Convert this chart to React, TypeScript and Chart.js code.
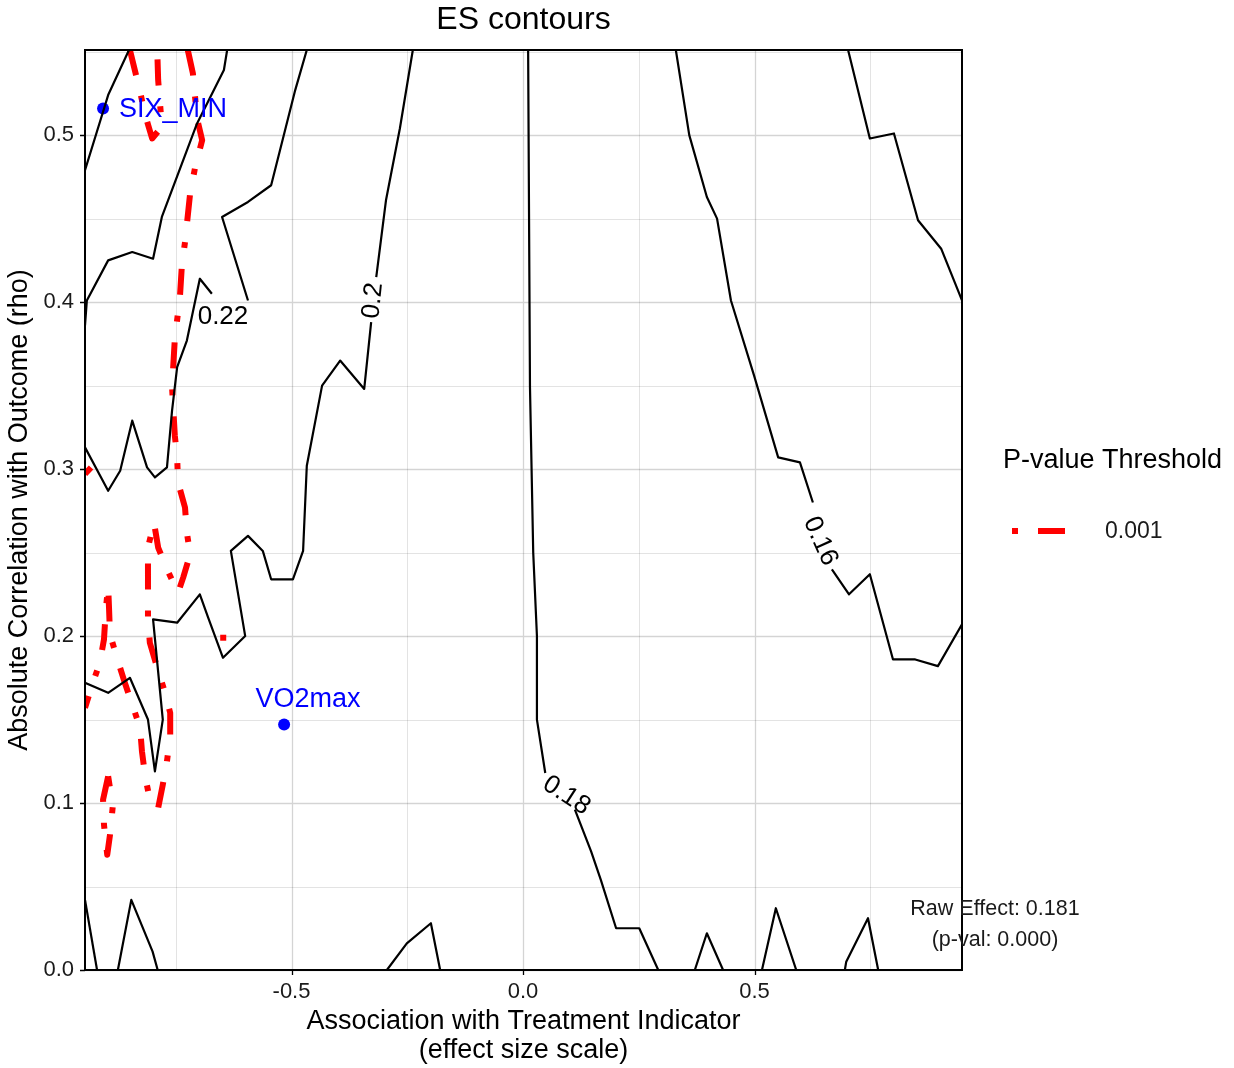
import React, { useEffect, useRef } from "react";
import { Chart, registerables } from "chart.js";

Chart.register(...registerables);

const FONT = '"Liberation Sans", Arial, Helvetica, sans-serif';

// ---- axes ----
const xLimits = [-0.946, 0.948];
const yLimits = [0, 0.551];
const xMinorGrid = [-0.75, -0.25, 0.25, 0.75];
const yMinorGrid = [0.05, 0.15, 0.25, 0.35, 0.45, 0.55];

// ---- ES contour lines ([x, y]) ----
const esContourA = [[-0.851, 0.551], [-0.896, 0.524], [-0.907, 0.514], [-0.946, 0.479]];
const esContourB = [[-0.639, 0.551], [-0.646, 0.539], [-0.704, 0.507], [-0.78, 0.451], [-0.799, 0.426], [-0.844, 0.43], [-0.896, 0.425], [-0.942, 0.401], [-0.946, 0.386]];
const es022Upper = [[-0.467, 0.551], [-0.492, 0.527], [-0.544, 0.47], [-0.594, 0.46], [-0.65, 0.451], [-0.594, 0.401]];
const es022Lower = [[-0.672, 0.405], [-0.698, 0.414], [-0.726, 0.377], [-0.747, 0.361], [-0.758, 0.335], [-0.769, 0.301], [-0.795, 0.295], [-0.812, 0.301], [-0.844, 0.329], [-0.87, 0.299], [-0.896, 0.287], [-0.946, 0.313]];
const es020Upper = [[-0.238, 0.551], [-0.266, 0.504], [-0.296, 0.461], [-0.317, 0.415]];
const es020Lower = [[-0.328, 0.388], [-0.343, 0.348], [-0.395, 0.365], [-0.434, 0.35], [-0.467, 0.302], [-0.475, 0.251], [-0.497, 0.234], [-0.544, 0.234], [-0.562, 0.251], [-0.594, 0.26], [-0.631, 0.251], [-0.6, 0.2], [-0.648, 0.187], [-0.68, 0.211], [-0.698, 0.225], [-0.747, 0.208], [-0.799, 0.21], [-0.778, 0.15], [-0.795, 0.119], [-0.81, 0.15], [-0.849, 0.175], [-0.896, 0.166], [-0.946, 0.172]];
const es018Upper = [[0.011, 0.551], [0.015, 0.349], [0.022, 0.25], [0.03, 0.2], [0.03, 0.15], [0.048, 0.118]];
const es018Lower = [[0.112, 0.096], [0.147, 0.071], [0.168, 0.054], [0.201, 0.025], [0.251, 0.025], [0.292, 0]];
const es016Upper = [[0.33, 0.551], [0.359, 0.5], [0.397, 0.463], [0.419, 0.45], [0.449, 0.401], [0.499, 0.356], [0.551, 0.307], [0.598, 0.304], [0.626, 0.28]];
const es016Lower = [[0.667, 0.24], [0.704, 0.225], [0.749, 0.237], [0.799, 0.186], [0.847, 0.186], [0.896, 0.182], [0.948, 0.207]];
const esContourG = [[0.702, 0.551], [0.749, 0.498], [0.801, 0.501], [0.853, 0.449], [0.903, 0.432], [0.948, 0.401]];
const esBottom1 = [[-0.946, 0.042], [-0.92, 0]];
const esBottom2 = [[-0.875, 0], [-0.846, 0.042], [-0.8, 0.011], [-0.789, 0]];
const esBottom3 = [[-0.294, 0], [-0.251, 0.016], [-0.199, 0.028], [-0.179, 0]];
const esBottom4 = [[0.371, 0], [0.397, 0.022], [0.432, 0]];
const esBottom5 = [[0.516, 0], [0.546, 0.037], [0.59, 0]];
const esBottom6 = [[0.695, 0], [0.698, 0.005], [0.745, 0.031], [0.767, 0]];

// ---- p-value threshold (0.001) contour ----
const pThreshTop = [[-0.849, 0.551], [-0.827, 0.526], [-0.816, 0.512], [-0.801, 0.498], [-0.78, 0.505], [-0.784, 0.519], [-0.788, 0.533], [-0.79, 0.551]];
const pThreshMain = [[-0.724, 0.551], [-0.713, 0.537], [-0.704, 0.51], [-0.693, 0.497], [-0.708, 0.481], [-0.719, 0.465], [-0.73, 0.436], [-0.737, 0.421], [-0.741, 0.403], [-0.752, 0.378], [-0.758, 0.349], [-0.752, 0.32], [-0.747, 0.307], [-0.745, 0.292], [-0.73, 0.277], [-0.726, 0.262], [-0.719, 0.249], [-0.734, 0.235], [-0.745, 0.226], [-0.769, 0.24], [-0.788, 0.253], [-0.797, 0.268], [-0.81, 0.253], [-0.81, 0.225], [-0.81, 0.211], [-0.806, 0.196], [-0.79, 0.181], [-0.773, 0.166], [-0.762, 0.154], [-0.762, 0.14], [-0.769, 0.125], [-0.778, 0.111], [-0.788, 0.097], [-0.806, 0.102], [-0.816, 0.116], [-0.823, 0.131], [-0.827, 0.145], [-0.844, 0.159], [-0.86, 0.172], [-0.877, 0.187], [-0.892, 0.201], [-0.894, 0.216], [-0.896, 0.23], [-0.901, 0.216], [-0.905, 0.198], [-0.914, 0.184], [-0.929, 0.172], [-0.946, 0.157]];
const pThreshIsland = [[-0.896, 0.116], [-0.907, 0.102], [-0.905, 0.087], [-0.898, 0.069], [-0.892, 0.081], [-0.886, 0.098], [-0.896, 0.116]];
const pThreshEdge = [[-0.946, 0.297], [-0.933, 0.301]];
const pThreshSpeck = [[-0.654, 0.199], [-0.641, 0.199]];

// ---- contour labels ----
const contourLabelText = ["0.22", "0.2", "0.18", "0.16"];
const contourLabelX = [-0.648, -0.326, 0.095, 0.644];
const contourLabelY = [0.392, 0.401, 0.105, 0.257];
const contourLabelAngle = [0, -84, 33, 66];

// ---- labelled outcomes ----
const pointNames = ["SIX_MIN", "VO2max"];
const pointX = [-0.907, -0.516];
const pointY = [0.516, 0.147];

const legendTitle = "P-value Threshold";
const legendLabels = ["0.001"];
const rawEffectLines = ["Raw Effect: 0.181", "(p-val: 0.000)"];

const toPts = (arr: number[][]) => arr.map(([x, y]) => ({ x, y }));

const decor = {
  id: "decor",
  beforeDatasetsDraw(chart: any) {
    const { ctx, chartArea: a, scales } = chart;
    const xs = scales.x, ys = scales.y;
    ctx.save();
    ctx.lineWidth = 1;
    ctx.strokeStyle = "rgba(0,0,0,0.11)";
    ctx.beginPath();
    xMinorGrid.forEach((v) => {
      const p = Math.round(xs.getPixelForValue(v)) + 0.5;
      ctx.moveTo(p, a.top); ctx.lineTo(p, a.bottom);
    });
    yMinorGrid.forEach((v) => {
      if (v > yLimits[1]) return;
      const p = Math.round(ys.getPixelForValue(v)) + 0.5;
      ctx.moveTo(a.left, p); ctx.lineTo(a.right, p);
    });
    ctx.stroke();
    ctx.strokeStyle = "rgba(0,0,0,0.17)";
    ctx.lineWidth = 1.3;
    ctx.beginPath();
    xs.ticks.forEach((t: any) => {
      const p = Math.round(xs.getPixelForValue(t.value)) + 0.5;
      ctx.moveTo(p, a.top); ctx.lineTo(p, a.bottom);
    });
    ys.ticks.forEach((t: any) => {
      const p = Math.round(ys.getPixelForValue(t.value)) + 0.5;
      ctx.moveTo(a.left, p); ctx.lineTo(a.right, p);
    });
    ctx.stroke();
    ctx.restore();
  },
  afterDatasetsDraw(chart: any) {
    const { ctx, chartArea: a, scales } = chart;
    const xs = scales.x, ys = scales.y;
    ctx.save();
    // panel border
    ctx.strokeStyle = "#000";
    ctx.lineWidth = 2;
    ctx.strokeRect(a.left, a.top, a.right - a.left, a.bottom - a.top);
    // tick marks
    ctx.lineWidth = 1.3;
    ctx.beginPath();
    xs.ticks.forEach((t: any) => {
      const p = Math.round(xs.getPixelForValue(t.value)) + 0.5;
      ctx.moveTo(p, a.bottom); ctx.lineTo(p, a.bottom + 5);
    });
    ys.ticks.forEach((t: any) => {
      const p = Math.round(ys.getPixelForValue(t.value)) + 0.5;
      ctx.moveTo(a.left - 5, p); ctx.lineTo(a.left, p);
    });
    ctx.stroke();

    // contour labels
    ctx.fillStyle = "#000";
    ctx.font = `26px ${FONT}`;
    ctx.textAlign = "center";
    ctx.textBaseline = "middle";
    contourLabelText.forEach((txt, i) => {
      const px = xs.getPixelForValue(contourLabelX[i]);
      const py = ys.getPixelForValue(contourLabelY[i]);
      ctx.save();
      ctx.translate(px, py);
      ctx.rotate((contourLabelAngle[i] * Math.PI) / 180);
      ctx.fillText(txt, 0, 1);
      ctx.restore();
    });

    // point labels
    ctx.fillStyle = "#0000ff";
    ctx.font = `27px ${FONT}`;
    {
      const px = xs.getPixelForValue(pointX[0]);
      const py = ys.getPixelForValue(pointY[0]);
      ctx.textAlign = "left";
      ctx.fillText(pointNames[0], px + 16, py + 1);
      const qx = xs.getPixelForValue(pointX[1]);
      const qy = ys.getPixelForValue(pointY[1]);
      ctx.textAlign = "center";
      ctx.fillText(pointNames[1], qx + 24, qy - 25);
    }

    // raw effect annotation
    ctx.fillStyle = "#1a1a1a";
    ctx.font = `21.5px ${FONT}`;
    ctx.textAlign = "center";
    ctx.fillText(rawEffectLines[0], a.right + 33, a.bottom - 61);
    ctx.fillText(rawEffectLines[1], a.right + 33, a.bottom - 30);

    // title
    ctx.fillStyle = "#000";
    ctx.font = `32px ${FONT}`;
    ctx.fillText("ES contours", (a.left + a.right) / 2, 20);

    // axis titles
    ctx.font = `27px ${FONT}`;
    ctx.fillText("Association with Treatment Indicator", (a.left + a.right) / 2, 1022);
    ctx.fillText("(effect size scale)", (a.left + a.right) / 2, 1051);
    ctx.save();
    ctx.translate(20, (a.top + a.bottom) / 2);
    ctx.rotate(-Math.PI / 2);
    ctx.fillText("Absolute Correlation with Outcome (rho)", 0, 0);
    ctx.restore();

    // legend
    ctx.textAlign = "left";
    ctx.font = `27px ${FONT}`;
    ctx.fillText(legendTitle, 1003, 461);
    ctx.fillStyle = "#ff0000";
    ctx.fillRect(1012, 528, 6, 6);
    ctx.fillRect(1038, 528, 27, 6);
    ctx.fillStyle = "#1a1a1a";
    ctx.font = `23px ${FONT}`;
    ctx.fillText(legendLabels[0], 1105, 532);
    ctx.restore();
  },
};

export default function App() {
  const ref = useRef<HTMLCanvasElement>(null);
  useEffect(() => {
    const canvas = ref.current;
    if (!canvas) return;
    const blackLine = (arr: number[][]) => ({
      data: toPts(arr),
      showLine: true,
      borderColor: "#000000",
      borderWidth: 2.2,
      pointRadius: 0,
      borderJoinStyle: "round",
      borderCapStyle: "butt",
      tension: 0,
      fill: false,
    });
    const redLine = (arr: number[][]) => ({
      data: toPts(arr),
      showLine: true,
      borderColor: "#ff0000",
      borderWidth: 6,
      borderDash: [26, 21, 6, 21],
      pointRadius: 0,
      borderJoinStyle: "round",
      borderCapStyle: "butt",
      tension: 0,
      fill: false,
    });
    const blackSets = [esContourA, esContourB, es022Upper, es022Lower, es020Upper, es020Lower, es018Upper, es018Lower, es016Upper, es016Lower, esContourG, esBottom1, esBottom2, esBottom3, esBottom4, esBottom5, esBottom6].map(blackLine);
    const redSets = [pThreshTop, pThreshMain, pThreshIsland, pThreshEdge, pThreshSpeck].map(redLine);
    const pointSet = {
      data: pointNames.map((_, i) => ({ x: pointX[i], y: pointY[i] })),
      showLine: false,
      pointRadius: 6,
      pointBackgroundColor: "#0000ff",
      pointBorderWidth: 0,
      pointBorderColor: "#0000ff",
    };
    const tickFont = { family: FONT, size: 22 };
    const chart = new Chart(canvas, {
      type: "scatter",
      data: { datasets: [...blackSets, ...redSets, pointSet] as any },
      options: {
        responsive: false,
        animation: false,
        devicePixelRatio: 1,
        events: [],
        layout: { padding: { left: 0, top: 50, right: 272, bottom: 0 } },
        plugins: { legend: { display: false }, tooltip: { enabled: false }, title: { display: false } },
        scales: {
          x: {
            type: "linear",
            min: xLimits[0],
            max: xLimits[1],
            grid: { display: false, drawTicks: false },
            border: { display: false },
            ticks: {
              stepSize: 0.5,
              includeBounds: false,
              maxRotation: 0,
              autoSkip: false,
              padding: 9,
              color: "#1a1a1a",
              font: tickFont,
              callback: (v: any) => Number(v).toFixed(1),
            },
            afterFit: (s: any) => { s.height = 98; },
          },
          y: {
            type: "linear",
            min: yLimits[0],
            max: yLimits[1],
            grid: { display: false, drawTicks: false },
            border: { display: false },
            ticks: {
              stepSize: 0.1,
              includeBounds: false,
              autoSkip: false,
              padding: 11,
              color: "#1a1a1a",
              font: tickFont,
              callback: (v: any) => Number(v).toFixed(1),
            },
            afterFit: (s: any) => { s.width = 85; },
          },
        },
      } as any,
      plugins: [decor],
    });
    return () => chart.destroy();
  }, []);
  return (
    <div style={{ position: "absolute", left: 0, top: 0, width: 1234, height: 1068, background: "#fff" }}>
      <canvas ref={ref} width={1234} height={1068} style={{ display: "block" }} />
    </div>
  );
}
